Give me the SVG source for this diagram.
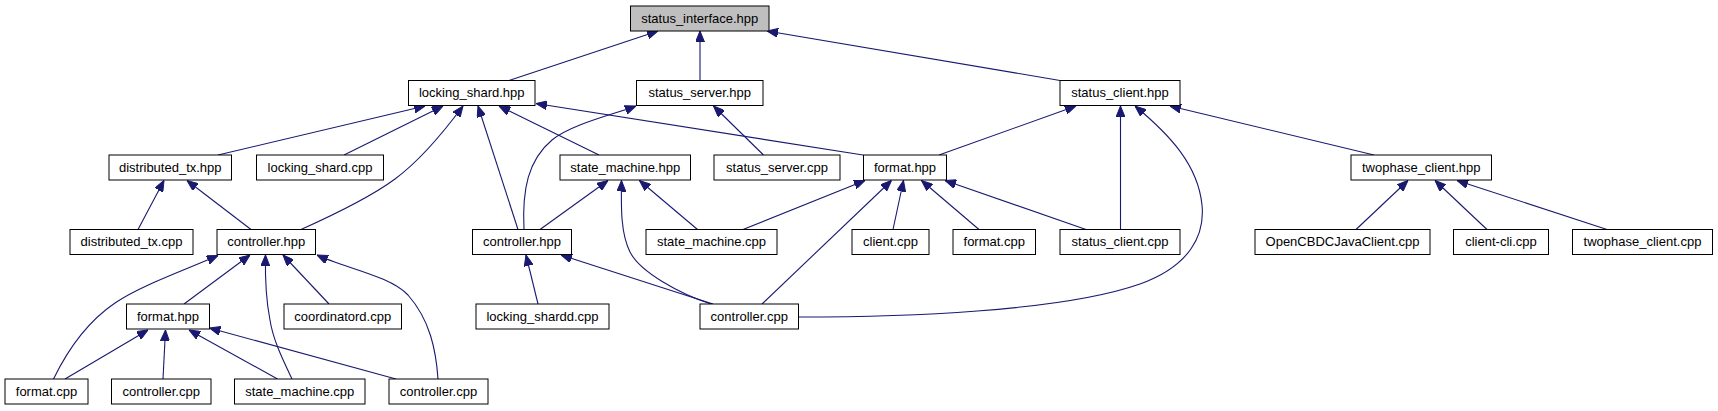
<svg xmlns="http://www.w3.org/2000/svg" width="1718" height="411" viewBox="0 0 1718 411">
<style>
.n rect{fill:#ffffff;stroke:#000000;stroke-width:1}
.n text{font-family:"Liberation Sans",Arial,Helvetica,sans-serif;font-size:13px;text-anchor:middle;fill:#000000}
.root rect{fill:#bfbfbf}
.e path{fill:none;stroke:#191970;stroke-width:1.1;marker-end:url(#ah)}
</style>
<defs>
<marker id="ah" viewBox="0 0 11 9" refX="11" refY="4.5" markerWidth="11" markerHeight="9" orient="auto" markerUnits="userSpaceOnUse">
<path d="M0,0 L11,4.5 L0,9 z" fill="#191970" stroke="#191970" stroke-width="1"/>
</marker>
</defs>
<rect width="1718" height="411" fill="#ffffff"/>
<g id="edges" class="e">
<path d="M509,80.5 L658,31"/>
<path d="M700,80.5 L700,31"/>
<path d="M1060,80.5 L767,31"/>
<path d="M218,155 L425,106"/>
<path d="M344,155 L443,106"/>
<path d="M301,229.5 C340,212 372,196 395,179 C418,162 440,137 463,106"/>
<path d="M518,229.5 L478,106"/>
<path d="M599,155 L499,106"/>
<path d="M863,155 L536,103.5"/>
<path d="M524,229.5 C522,190 528,160 552,140 C572,124 612,115 636,106"/>
<path d="M763.5,155 L713.5,106"/>
<path d="M939,155 L1076,106"/>
<path d="M1120.5,229.5 L1120.5,106"/>
<path d="M798.5,317 C900,317 1060,312 1140,284 C1190,266 1205,235 1202,205 C1198,165 1170,135 1135,106"/>
<path d="M1374,155 L1170,106"/>
<path d="M138,229.5 L164,180.5"/>
<path d="M251,229.5 L187,180.5"/>
<path d="M540,229.5 L608,180.5"/>
<path d="M711,304 C680,294 640,272 630,252 C621,234 621,210 621.5,180.5"/>
<path d="M697.5,229.5 L639.5,180.5"/>
<path d="M743,229.5 L865,180.5"/>
<path d="M762,304 L891.5,180.5"/>
<path d="M893,229.5 L903.5,180.5"/>
<path d="M979,229.5 L921.5,180.5"/>
<path d="M1086,229.5 L945,180.5"/>
<path d="M1356,229.5 L1408,180.5"/>
<path d="M1487,229.5 L1435,180.5"/>
<path d="M1607,229.5 L1457,180.5"/>
<path d="M53.5,379 C70,345 90,320 115,303 C140,286 180,272 218,255.5"/>
<path d="M184,304 L250,255"/>
<path d="M292,379 C283,360 273,340 270,320 C266,300 265,280 265.5,255"/>
<path d="M329,304 L283,255"/>
<path d="M438,379 C436,350 430,320 408,295 C390,276 345,268 317,255"/>
<path d="M538,304 L526,255"/>
<path d="M713,304 L561,255"/>
<path d="M65,379 L148,330"/>
<path d="M163,379 L165.5,330"/>
<path d="M277.5,379 L189,330"/>
<path d="M396,379 L209.5,328"/>
</g>
<g id="n0" class="n root"><rect x="630.5" y="6" width="138.5" height="25"/><text x="699.75" y="22.5">status_interface.hpp</text></g>
<g id="n1" class="n"><rect x="408.5" y="80.5" width="126.5" height="25"/><text x="471.75" y="97">locking_shard.hpp</text></g>
<g id="n2" class="n"><rect x="636.5" y="80.5" width="126.5" height="25"/><text x="699.75" y="97">status_server.hpp</text></g>
<g id="n3" class="n"><rect x="1060" y="80.5" width="120" height="25"/><text x="1120" y="97">status_client.hpp</text></g>
<g id="n4" class="n"><rect x="109" y="155" width="122.5" height="25"/><text x="170.25" y="171.5">distributed_tx.hpp</text></g>
<g id="n5" class="n"><rect x="256.5" y="155" width="127" height="25"/><text x="320" y="171.5">locking_shard.cpp</text></g>
<g id="n6" class="n"><rect x="560" y="155" width="130.5" height="25"/><text x="625.25" y="171.5">state_machine.hpp</text></g>
<g id="n7" class="n"><rect x="714" y="155" width="126" height="25"/><text x="777" y="171.5">status_server.cpp</text></g>
<g id="n8" class="n"><rect x="863.5" y="155" width="83" height="25"/><text x="905" y="171.5">format.hpp</text></g>
<g id="n9" class="n"><rect x="1351" y="155" width="140.5" height="25"/><text x="1421.25" y="171.5">twophase_client.hpp</text></g>
<g id="n10" class="n"><rect x="70" y="229.5" width="123" height="25"/><text x="131.5" y="246">distributed_tx.cpp</text></g>
<g id="n11" class="n"><rect x="217" y="229.5" width="98.5" height="25"/><text x="266.25" y="246">controller.hpp</text></g>
<g id="n12" class="n"><rect x="472.5" y="229.5" width="99" height="25"/><text x="522" y="246">controller.hpp</text></g>
<g id="n13" class="n"><rect x="646" y="229.5" width="131" height="25"/><text x="711.5" y="246">state_machine.cpp</text></g>
<g id="n14" class="n"><rect x="852" y="229.5" width="77" height="25"/><text x="890.5" y="246">client.cpp</text></g>
<g id="n15" class="n"><rect x="953" y="229.5" width="82.5" height="25"/><text x="994.25" y="246">format.cpp</text></g>
<g id="n16" class="n"><rect x="1060" y="229.5" width="120" height="25"/><text x="1120" y="246">status_client.cpp</text></g>
<g id="n17" class="n"><rect x="1255" y="229.5" width="175" height="25"/><text x="1342.5" y="246">OpenCBDCJavaClient.cpp</text></g>
<g id="n18" class="n"><rect x="1453.5" y="229.5" width="95" height="25"/><text x="1501" y="246">client-cli.cpp</text></g>
<g id="n19" class="n"><rect x="1572.5" y="229.5" width="140" height="25"/><text x="1642.5" y="246">twophase_client.cpp</text></g>
<g id="n20" class="n"><rect x="126.5" y="304" width="83" height="25"/><text x="168" y="320.5">format.hpp</text></g>
<g id="n21" class="n"><rect x="284" y="304" width="117.5" height="25"/><text x="342.75" y="320.5">coordinatord.cpp</text></g>
<g id="n22" class="n"><rect x="476" y="304" width="133" height="25"/><text x="542.5" y="320.5">locking_shardd.cpp</text></g>
<g id="n23" class="n"><rect x="700" y="304" width="98.5" height="25"/><text x="749.25" y="320.5">controller.cpp</text></g>
<g id="n24" class="n"><rect x="5" y="379" width="83" height="25"/><text x="46.5" y="395.5">format.cpp</text></g>
<g id="n25" class="n"><rect x="111.5" y="379" width="99.5" height="25"/><text x="161.25" y="395.5">controller.cpp</text></g>
<g id="n26" class="n"><rect x="234.5" y="379" width="130.5" height="25"/><text x="299.75" y="395.5">state_machine.cpp</text></g>
<g id="n27" class="n"><rect x="389" y="379" width="99" height="25"/><text x="438.5" y="395.5">controller.cpp</text></g>
</svg>
